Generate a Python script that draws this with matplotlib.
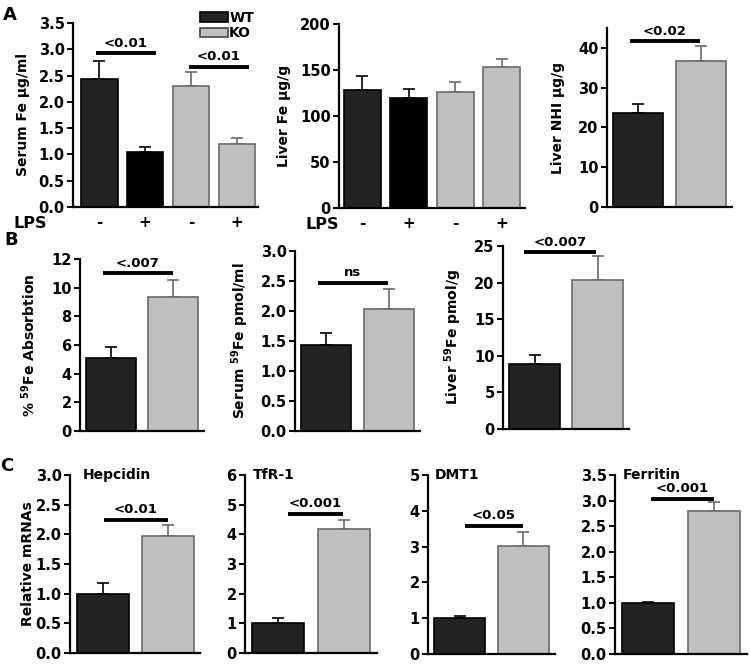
import numpy as np
import matplotlib
matplotlib.use("Agg")
import matplotlib.pyplot as plt
from matplotlib.patches import Patch

plt.rcParams['font.family'] = ['DejaVu Sans']
plt.rcParams['font.weight'] = 'bold'
plt.rcParams['mathtext.fontset'] = 'dejavusans'
plt.rcParams['mathtext.default'] = 'bf'

DARK = '#232323'
BLACK = '#000000'
LIGHT = '#c0c0c0'

# panel A
serum_fe = [2.44, 1.04, 2.30, 1.20]
serum_fe_err = [0.33, 0.10, 0.27, 0.11]
liver_fe = [128, 120, 126.5, 153]
liver_fe_err = [15.5, 9, 11, 8.5]
liver_nhi = [23.7, 36.8]
liver_nhi_err = [2.1, 3.6]
lps_labels = ['-', '+', '-', '+']

# panel B
absorption = [5.08, 9.37]
absorption_err = [0.75, 1.17]
serum59 = [1.44, 2.04]
serum59_err = [0.20, 0.32]
liver59 = [8.9, 20.4]
liver59_err = [1.2, 3.3]

# panel C
hepcidin = [1.0, 1.98]
hepcidin_err = [0.18, 0.18]
tfr1 = [1.0, 4.18]
tfr1_err = [0.18, 0.29]
dmt1 = [1.0, 3.02]
dmt1_err = [0.07, 0.40]
ferritin = [1.0, 2.80]
ferritin_err = [0.02, 0.18]

W, H = 750, 665
fig = plt.figure(figsize=(7.5, 6.65), dpi=100)


def rect(l, r, t, b):
    return [l / W, 1 - b / H, (r - l) / W, (b - t) / H]


def bar_panel(pos, vals, errs, colors, ylim, ticks, ticklabels, ylabel,
              xlim=None, ylabel_px=None, sigs=()):
    ax = fig.add_axes(rect(*pos))
    x = np.arange(len(vals))
    for xi, v, e, c in zip(x, vals, errs, colors):
        ec = '#000000' if c != LIGHT else '#6a6a6a'
        ax.errorbar([xi], [v], yerr=[[0], [e]], fmt='none', ecolor=ec,
                    elinewidth=1.2, capsize=4, capthick=1.2, zorder=1)
        ax.bar(xi, v, width=0.8, color=c, edgecolor=ec, linewidth=1.2, zorder=2)
    ax.set_xlim(xlim if xlim else (-0.5, len(vals) - 0.5))
    ax.set_ylim(*ylim)
    ax.set_yticks(ticks)
    ax.set_yticklabels(ticklabels, fontsize=10.5, fontweight='bold')
    ax.set_xticks([])
    for s in ['top', 'right']:
        ax.spines[s].set_visible(False)
    for s in ['left', 'bottom']:
        ax.spines[s].set_linewidth(1.6)
    ax.tick_params(axis='y', length=4, width=1.4, pad=2)
    ax.set_ylabel(ylabel, fontsize=10, fontweight='bold')
    if ylabel_px is not None:
        ax.yaxis.set_label_coords((ylabel_px - pos[0]) / (pos[1] - pos[0]), 0.5)
    for x0, x1, y, lab in sigs:
        ax.plot([x0, x1], [y, y], color='black', lw=2.8, clip_on=False,
                solid_capstyle='butt')
        ax.annotate(lab, ((x0 + x1) / 2, y), xytext=(0, 2.5),
                    textcoords='offset points', ha='center', va='bottom',
                    fontsize=9.5, fontweight='bold', annotation_clip=False)
    return ax


def lps_row(ax, lx):
    ax.set_xticks(np.arange(4))
    ax.set_xticklabels(lps_labels, fontsize=11, fontweight='bold')
    ax.tick_params(axis='x', length=0, pad=6)
    ax.text(lx, -0.087, 'LPS', transform=ax.transAxes, ha='right',
            va='center', fontsize=11.5, fontweight='bold')


# row A
a1 = bar_panel((73, 258, 23, 207), serum_fe, serum_fe_err,
               [DARK, BLACK, LIGHT, LIGHT], (0, 3.5),
               np.arange(0, 3.51, 0.5), ['%.1f' % t for t in np.arange(0, 3.51, 0.5)],
               'Serum Fe \u00b5g/ml', xlim=(-0.57, 3.46), ylabel_px=30,
               sigs=[(-0.07, 1.24, 2.92, '<0.01'), (1.96, 3.26, 2.67, '<0.01')])
lps_row(a1, -0.14)
a2 = bar_panel((339, 525, 24, 208), liver_fe, liver_fe_err,
               [DARK, BLACK, LIGHT, LIGHT], (0, 200),
               [0, 50, 100, 150, 200], ['0', '50', '100', '150', '200'],
               'Liver Fe \u00b5g/g', ylabel_px=291)
lps_row(a2, 0.0)
a3 = bar_panel((607, 732, 28, 207), liver_nhi, liver_nhi_err,
               [DARK, LIGHT], (0, 45),
               [0, 10, 20, 30, 40], ['0', '10', '20', '30', '40'],
               'Liver NHI \u00b5g/g', ylabel_px=565,
               sigs=[(-0.13, 0.98, 41.7, '<0.02')])

# row B
bar_panel((80, 204, 259, 431), absorption, absorption_err, [DARK, LIGHT],
          (0, 12), [0, 2, 4, 6, 8, 10, 12], ['0', '2', '4', '6', '8', '10', '12'],
          '% $^{59}$Fe Absorbtion', ylabel_px=38,
          sigs=[(-0.13, 1.0, 11.0, '<.007')])
bar_panel((295, 420, 251, 431), serum59, serum59_err, [DARK, LIGHT],
          (0, 3.0), np.arange(0, 3.01, 0.5), ['%.1f' % t for t in np.arange(0, 3.01, 0.5)],
          'Serum $^{59}$Fe pmol/ml', ylabel_px=251,
          sigs=[(-0.13, 0.98, 2.47, 'ns')])
bar_panel((503, 629, 246, 429), liver59, liver59_err, [DARK, LIGHT],
          (0, 25), [0, 5, 10, 15, 20, 25], ['0', '5', '10', '15', '20', '25'],
          'Liver $^{59}$Fe pmol/g', ylabel_px=464,
          sigs=[(-0.16, 0.97, 24.15, '<0.007')])

# row C
c_specs = [
    ((70, 200, 475, 653), hepcidin, hepcidin_err, (0, 3.0),
     np.arange(0, 3.01, 0.5), 'Hepcidin', 0.1, (0.03, 1.0, 2.25, '<0.01')),
    ((245, 377, 475, 653), tfr1, tfr1_err, (0, 6),
     np.arange(0, 7, 1), 'TfR-1', 0.06, (0.15, 0.98, 4.69, '<0.001')),
    ((428, 555, 475, 654), dmt1, dmt1_err, (0, 5),
     np.arange(0, 6, 1), 'DMT1', 0.055, (0.08, 1.0, 3.58, '<0.05')),
    ((615, 747, 475, 654), ferritin, ferritin_err, (0, 3.5),
     np.arange(0, 3.51, 0.5), 'Ferritin', 0.06, (0.05, 1.0, 3.04, '<0.001')),
]
for i, (pos, vals, errs, ylim, ticks, title, tx, sig) in enumerate(c_specs):
    if ticks[1] == 1:
        labs = ['%d' % t for t in ticks]
    else:
        labs = ['%.1f' % t for t in ticks]
    ax = bar_panel(pos, vals, errs, [DARK, LIGHT], ylim, ticks, labs,
                   'Relative mRNAs' if i == 0 else '', ylabel_px=35,
                   sigs=[sig])
    ax.text(tx, 1.0, title, transform=ax.transAxes, ha='left', va='center',
            fontsize=10, fontweight='bold')

# legend
handles = [Patch(facecolor=DARK, edgecolor='black', linewidth=1.2),
           Patch(facecolor=LIGHT, edgecolor='#444444', linewidth=1.2)]
fig.legend(handles, ['WT', 'KO'], loc='upper left',
           bbox_to_anchor=(200 / W, 1 - 11 / H), frameon=False,
           handlelength=2.0, handleheight=0.7, handletextpad=0.1,
           labelspacing=0.1, borderpad=0, borderaxespad=0,
           prop={'size': 10, 'weight': 'bold'})

# panel letters
for lab, px, py in [('A', 10, 15), ('B', 11, 240), ('C', 7, 466)]:
    fig.text(px / W, 1 - py / H, lab, ha='center', va='center',
             fontsize=13, fontweight='bold')

fig.savefig('out.png', dpi=100)
